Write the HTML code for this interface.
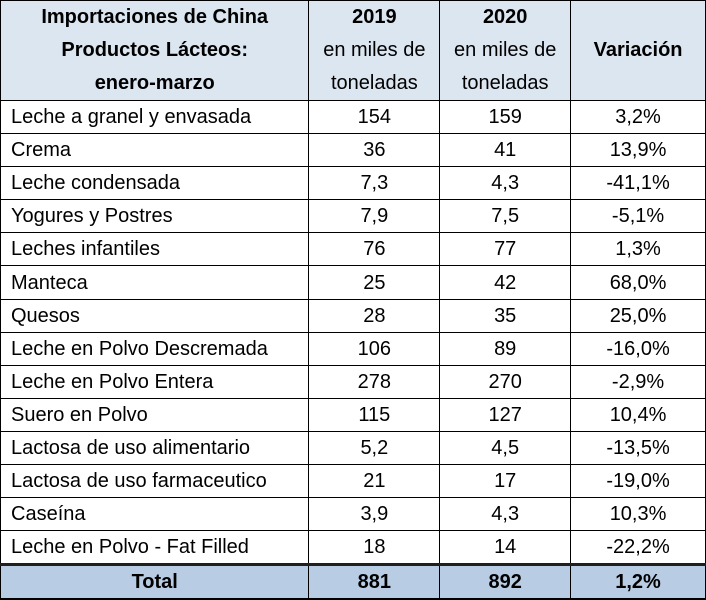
<!DOCTYPE html>
<html><head><meta charset="utf-8"><style>
body{margin:0;width:706px;height:600px;background:#fff;overflow:hidden}
table{position:absolute;left:0;top:0;border-collapse:collapse;width:706px;font-family:"Liberation Sans",sans-serif;font-size:20px;color:#000}
td{border:1.5px solid #000;padding:0;height:32.1px;text-align:center;line-height:1}
td.l{text-align:left;padding-left:10px}
thead td{background:#dce6f1;height:97.5px;line-height:33px;font-size:20px}
thead td.b{font-weight:bold}
tr.tot td{background:#b8cce4;font-weight:bold;border-top:3px solid #1f1f1f;border-bottom:2px solid #000;height:32px}
</style></head><body>
<table>
<colgroup><col style="width:309px"><col style="width:131px"><col style="width:131px"><col style="width:135px"></colgroup>
<thead><tr>
<td class="b">Importaciones de China<br>Productos Lácteos:<br>enero-marzo</td>
<td><b>2019</b><br>en miles de<br>toneladas</td>
<td><b>2020</b><br>en miles de<br>toneladas</td>
<td class="b">Variación</td>
</tr></thead>
<tbody>
<tr><td class="l">Leche a granel y envasada</td><td>154</td><td>159</td><td>3,2%</td></tr>
<tr><td class="l">Crema</td><td>36</td><td>41</td><td>13,9%</td></tr>
<tr><td class="l">Leche condensada</td><td>7,3</td><td>4,3</td><td>-41,1%</td></tr>
<tr><td class="l">Yogures y Postres</td><td>7,9</td><td>7,5</td><td>-5,1%</td></tr>
<tr><td class="l">Leches infantiles</td><td>76</td><td>77</td><td>1,3%</td></tr>
<tr><td class="l">Manteca</td><td>25</td><td>42</td><td>68,0%</td></tr>
<tr><td class="l">Quesos</td><td>28</td><td>35</td><td>25,0%</td></tr>
<tr><td class="l">Leche en Polvo Descremada</td><td>106</td><td>89</td><td>-16,0%</td></tr>
<tr><td class="l">Leche en Polvo Entera</td><td>278</td><td>270</td><td>-2,9%</td></tr>
<tr><td class="l">Suero en Polvo</td><td>115</td><td>127</td><td>10,4%</td></tr>
<tr><td class="l">Lactosa de uso alimentario</td><td>5,2</td><td>4,5</td><td>-13,5%</td></tr>
<tr><td class="l">Lactosa de uso farmaceutico</td><td>21</td><td>17</td><td>-19,0%</td></tr>
<tr><td class="l">Caseína</td><td>3,9</td><td>4,3</td><td>10,3%</td></tr>
<tr><td class="l">Leche en Polvo - Fat Filled</td><td>18</td><td>14</td><td>-22,2%</td></tr>
<tr class="tot"><td>Total</td><td>881</td><td>892</td><td>1,2%</td></tr>
</tbody></table>
</body></html>
